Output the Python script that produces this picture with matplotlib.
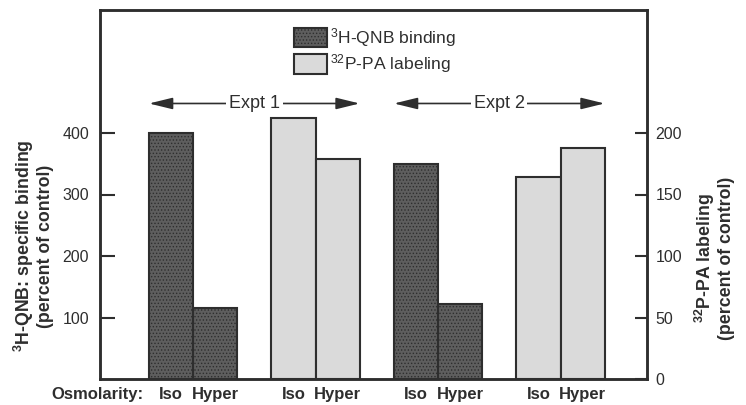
import matplotlib
matplotlib.use("Agg")
import matplotlib.pyplot as plt
import numpy as np
from matplotlib.patches import Patch

plt.rcParams['font.family'] = ['Liberation Sans', 'DejaVu Sans']
plt.rcParams['hatch.linewidth'] = 0.6
plt.rcParams['mathtext.fontset'] = 'custom'
plt.rcParams['mathtext.rm'] = 'Liberation Sans'
plt.rcParams['mathtext.it'] = 'Liberation Sans:italic'
plt.rcParams['mathtext.bf'] = 'Liberation Sans:bold'

# Data
experiments = ["Expt 1", "Expt 2"]
osmolarity = ["Iso", "Hyper"]
qnb_binding = [[400, 115], [350, 122]]        # left axis, percent of control
pa_labeling = [[212, 179], [164, 188]]        # right axis, percent of control
left_ticks = [100, 200, 300, 400]
right_ticks = [0, 50, 100, 150, 200]
series_labels = [r"$\mathregular{^{3}}$H-QNB binding",
                 r"$\mathregular{^{32}}$P-PA labeling"]
left_label = "$\\mathbf{^{3}}$H-QNB: specific binding\n(percent of control)"
right_label = "$\\mathbf{^{32}}$P-PA labeling\n(percent of control)"

INK = "#2e2e2e"
DARK = "#5e5e5e"
LIGHT = "#dadada"

fig = plt.figure(figsize=(7.46, 4.05), dpi=100)
ax = fig.add_axes([100/746, 26/405, 547/746, 369/405])
ax2 = ax.twinx()

w = 0.36
ax.set_xlim(-0.76, 3.706)
ax.set_ylim(0, 600)
ax2.set_ylim(0, 300)

xt, xl = [], []
for e in range(2):
    gq = 2 * e
    gp = 2 * e + 1
    for k in range(2):
        xq = gq + (k - 0.5) * w
        xp = gp + (k - 0.5) * w
        ax.bar(xq, qnb_binding[e][k], width=w, color=DARK, edgecolor=INK,
               linewidth=1.5, hatch='.....', zorder=2)
        ax2.bar(xp, pa_labeling[e][k], width=w, color=LIGHT, edgecolor=INK,
                linewidth=1.5, zorder=2)
        xt += [xq, xp]
        xl += [osmolarity[k], osmolarity[k]]
    # experiment arrows
    x0 = gq - w
    x1 = gp + w
    ya = 448
    ax.annotate('', xy=(x0, ya), xytext=(x1, ya),
                arrowprops=dict(arrowstyle='<|-|>,head_length=0.9,head_width=0.22',
                                color=INK, lw=1.2,
                                mutation_scale=16, shrinkA=0, shrinkB=0))
    ax.text((x0 + x1) / 2, ya, experiments[e], ha='center', va='center',
            fontsize=13, color=INK,
            bbox=dict(facecolor='white', edgecolor='none', pad=2))

ax.set_xticks(xt)
ax.set_xticklabels(xl, fontsize=12, fontweight='bold', color=INK)
ax.tick_params(axis='x', length=0, pad=6)

ax.set_yticks(left_ticks)
ax.set_yticklabels([str(t) for t in left_ticks], fontsize=11.5, color=INK)
ax.tick_params(axis='y', direction='in', length=11, width=1.5, color=INK, pad=8)

ax2.set_yticks(right_ticks)
ax2.set_yticklabels([str(t) for t in right_ticks], fontsize=11.5, color=INK)
ax2.tick_params(axis='y', direction='in', length=9, width=1.5, color=INK, pad=6)

for a in (ax, ax2):
    for s in a.spines.values():
        s.set_color(INK)
        s.set_linewidth(1.8)

fig.text(143/746, 1 - 395/405, "Osmolarity:", ha='right', va='center',
         fontsize=12, fontweight='bold', color=INK)

fig.text(33/746, 1 - 246/405, left_label, rotation=90, linespacing=1.05,
         ha='center', va='center', multialignment='center',
         fontsize=12.8, fontweight='bold', color=INK)
fig.text(714/746, 1 - 258/405, right_label, rotation=90, linespacing=1.1,
         ha='center', va='center', multialignment='center',
         fontsize=12.8, fontweight='bold', color=INK)

handles = [Patch(facecolor=DARK, edgecolor=INK, linewidth=1.5, hatch='.....'),
           Patch(facecolor=LIGHT, edgecolor=INK, linewidth=1.5)]
ax.legend(handles, series_labels, loc='upper left',
          bbox_to_anchor=((292 - 100) / 547 - 0.01, 1 - (19 - 10) / 369),
          frameon=False, fontsize=12.6, handlelength=1.9, handleheight=1.35,
          handletextpad=0.2, labelspacing=0.2, borderaxespad=0,
          labelcolor=INK)

fig.savefig("out.png", dpi=100)
